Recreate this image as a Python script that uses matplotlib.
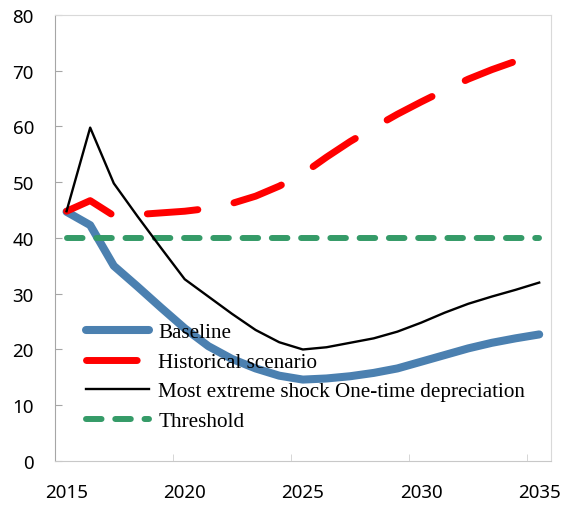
import matplotlib.pyplot as plt

years = list(range(2015, 2036))

baseline = [44.7, 42.3, 35.0, 31.3, 27.5, 23.8, 20.6, 18.3, 16.6, 15.3, 14.6,
            14.8, 15.2, 15.8, 16.6, 17.8, 19.0, 20.2, 21.2, 22.0, 22.7]
historical = [44.8, 46.7, 44.0, 44.2, 44.5, 44.8, 45.3, 46.2, 47.5, 49.3, 51.5,
              54.5, 57.3, 59.8, 62.2, 64.4, 66.5, 68.5, 70.2, 71.7, 73.2]
extreme = [44.8, 59.8, 49.8, 43.9, 38.2, 32.6, 29.5, 26.4, 23.5, 21.3, 20.0,
           20.4, 21.2, 22.0, 23.2, 24.8, 26.6, 28.2, 29.5, 30.7, 32.0]
threshold = [40.0] * len(years)

labels = ['Baseline', 'Historical scenario',
          'Most extreme shock One-time depreciation', 'Threshold']

fig = plt.figure(figsize=(5.63, 5.06), dpi=100)
ax = fig.add_axes([0.0972, 0.087, 0.8815, 0.8814])

ax.plot(years, baseline, color='#4B80B0', lw=5.8, solid_capstyle='round',
        solid_joinstyle='round', zorder=2, label=labels[0])
ax.plot(years, historical, color='#FF0000', lw=5.0, dashes=(7.3, 5.3),
        dash_capstyle='round', dash_joinstyle='round', zorder=3, label=labels[1])
ax.plot(years, extreme, color='black', lw=1.7, zorder=5, label=labels[2])
ax.plot(years, threshold, color='#359B68', lw=4.3, dashes=(2.6, 2.3),
        dash_capstyle='round', zorder=4, label=labels[3])

ax.set_xlim(2014.5, 2035.5)
ax.set_ylim(0, 80)
ax.set_yticks(range(0, 81, 10))
ax.set_xticks(range(2015, 2036, 5))
ax.set_xticks([2014.5, 2019.5, 2024.5, 2029.5, 2034.5], minor=True)

ax.tick_params(axis='y', direction='in', length=5, color='#A6A6A6',
               labelsize=13.5, pad=15)
ax.tick_params(axis='x', which='major', length=0, labelsize=13.5, pad=16)
ax.tick_params(axis='x', which='minor', direction='in', length=5, color='#D0D0D0')
for lab in ax.get_xticklabels() + ax.get_yticklabels():
    lab.set_fontfamily('Noto Sans')

ax.spines['left'].set_color('#A6A6A6')
ax.spines['bottom'].set_color('#C8C8C8')
ax.spines['top'].set_color('#D9D9D9')
ax.spines['right'].set_color('#D9D9D9')

handles, _ = ax.get_legend_handles_labels()
leg = ax.legend(handles, labels, loc='upper left', bbox_to_anchor=(0.063, 0.31),
                frameon=False, prop={'family': 'Liberation Serif', 'size': 15.2},
                handlelength=3.0, handletextpad=0.43, labelspacing=0.46,
                borderpad=0, borderaxespad=0)

fig.savefig('out.png', dpi=100)
